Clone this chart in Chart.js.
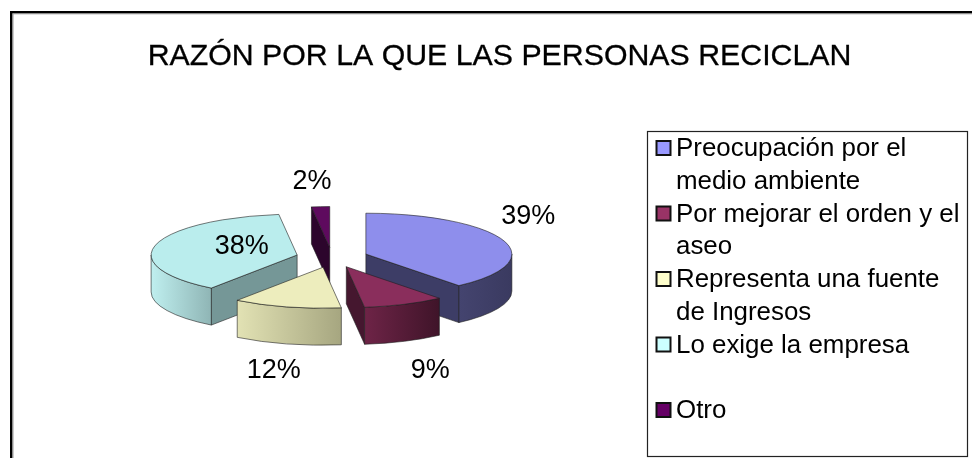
<!DOCTYPE html>
<html><head><meta charset="utf-8">
<script src="https://cdn.jsdelivr.net/npm/chart.js@4"></script>
<style>html,body{margin:0;padding:0;background:#fff}canvas{display:block;filter:blur(0.5px)}</style>
</head><body><canvas id="c" width="972" height="458"></canvas>
<script>
const titleText = "RAZÓN POR LA QUE LAS PERSONAS RECICLAN";
const categories = ["Preocupación por el medio ambiente","Por mejorar el orden y el aseo","Representa una fuente de Ingresos","Lo exige la empresa","Otro"];
const values = [39, 9, 12, 38, 2];
const legendLines = [["Preocupación por el","medio ambiente"],["Por mejorar el orden y el","aseo"],["Representa una fuente","de Ingresos"],["Lo exige la empresa",""],["Otro"]];
const legendColors = ["#9999FF","#993366","#FFFFCC","#CCFFFF","#660066"];
const topColors = ["#8E8EEC","#8A2E5C","#EDEDBD","#BAEDED","#5E0A5E"];
const faceColors = ["#3D3D66","#45172F","#A5A57E","#759797","#2C052C"];
const rimLeft = ["#44446F","#6E2447","#E2E2B4","#BFEFEF","#2C052C"];
const rimRight = ["#3A3A60","#3F1429","#A6A680","#8FB5B5","#2C052C"];
const drawOrder = [4, 0, 3, 2, 1];
const labelNudge = [[25,-24],[26,66],[-13,63.5],[86,1.5],[-8.5,-25.5]];

const SQUASH = 0.28, DEPTH = 37, EXPLODE = 36, RADIUS = 146;
const FONT = '"Liberation Sans", Arial, sans-serif';

const scene = {
  id: 'scene',
  beforeDraw(chart) {
    const ctx = chart.ctx;
    ctx.save();
    ctx.fillStyle = '#fff';
    ctx.fillRect(0, 0, chart.width, chart.height);
    // outer frame
    ctx.fillStyle = '#000';
    ctx.fillRect(10, 11, 962, 2.5);
    ctx.fillRect(10, 11, 2.5, 447);
    ctx.fillStyle = '#999';
    ctx.fillRect(12.5, 13.5, 1, 445);
    ctx.fillRect(12.5, 13.5, 960, 0.8);
    // title
    ctx.fillStyle = '#000';
    ctx.strokeStyle = '#000';
    ctx.lineWidth = 0.3;
    ctx.font = '30.3px ' + FONT;
    ctx.textAlign = 'center';
    ctx.textBaseline = 'alphabetic';
    ctx.fillText(titleText, 499.5, 65);
    ctx.strokeText(titleText, 499.5, 65);
    ctx.restore();
  },
  beforeDatasetDraw(chart, args) {
    const ctx = chart.ctx;
    const arcs = chart.getDatasetMeta(args.index).data;
    const mid = a => (a.startAngle + a.endAngle) / 2;
    for (const i of drawOrder) {
      const a = arcs[i];
      const ox = a.x + Math.cos(mid(a)) * EXPLODE;
      const oy = a.y + Math.sin(mid(a)) * EXPLODE * SQUASH;
      const R = a.outerRadius, Ry = R * SQUASH;
      const pt = t => [ox + R * Math.cos(t), oy + Ry * Math.sin(t)];
      const edge = 'rgba(30,30,30,0.75)';
      ctx.save();
      ctx.lineWidth = 0.8;
      ctx.strokeStyle = edge;
      ctx.lineJoin = 'round';
      // flat radial faces turned towards the viewer
      for (const [t, n] of [[a.startAngle, a.startAngle - Math.PI/2],[a.endAngle, a.endAngle + Math.PI/2]]) {
        if (Math.sin(n) > 0.001) {
          const p = pt(t);
          ctx.beginPath();
          ctx.moveTo(ox, oy);
          ctx.lineTo(p[0], p[1]);
          ctx.lineTo(p[0], p[1] + DEPTH);
          ctx.lineTo(ox, oy + DEPTH);
          ctx.closePath();
          ctx.fillStyle = faceColors[i];
          ctx.fill();
          ctx.stroke();
        }
      }
      // curved rim on the front half
      const s = a.startAngle, e = a.endAngle;
      const lo = [];
      for (const k of [0, 2*Math.PI]) {
        const from = Math.max(s, k), to = Math.min(e, k + Math.PI);
        if (to > from) lo.push([from, to]);
      }
      for (const [from, to] of lo) {
        const p0 = pt(from), p1 = pt(to);
        const minX = Math.min(p0[0], p1[0], (from <= Math.PI && to >= Math.PI) ? ox - R : 1e9);
        const maxX = Math.max(p0[0], p1[0], (from <= 0 && to >= 0) ? ox + R : -1e9);
        const g = ctx.createLinearGradient(minX, 0, maxX, 0);
        g.addColorStop(0, rimLeft[i]);
        g.addColorStop(1, rimRight[i]);
        ctx.beginPath();
        ctx.ellipse(ox, oy, R, Ry, 0, from, to);
        ctx.lineTo(p1[0], p1[1] + DEPTH);
        ctx.ellipse(ox, oy + DEPTH, R, Ry, 0, to, from, true);
        ctx.closePath();
        ctx.fillStyle = g;
        ctx.fill();
        ctx.stroke();
      }
      // top surface: the library's own arc, exploded and squashed
      ctx.save();
      ctx.translate(ox, oy);
      ctx.scale(1, SQUASH);
      ctx.translate(-a.x, -a.y);
      a.draw(ctx);
      ctx.restore();
      ctx.beginPath();
      ctx.moveTo(ox, oy);
      ctx.ellipse(ox, oy, R, Ry, 0, a.startAngle, a.endAngle);
      ctx.closePath();
      ctx.stroke();
      ctx.restore();
    }
    return false;
  },
  afterDatasetsDraw(chart) {
    const ctx = chart.ctx;
    const arcs = chart.getDatasetMeta(0).data;
    ctx.save();
    // percentage labels
    ctx.fillStyle = '#000';
    ctx.font = '27px ' + FONT;
    ctx.textAlign = 'center';
    ctx.textBaseline = 'middle';
    const total = values.reduce((x, y) => x + y, 0);
    arcs.forEach((a, i) => {
      const m = (a.startAngle + a.endAngle) / 2;
      const r = EXPLODE + a.outerRadius;
      const x = a.x + Math.cos(m) * r + labelNudge[i][0];
      const y = a.y + Math.sin(m) * r * SQUASH + labelNudge[i][1];
      ctx.fillText(Math.round(values[i] / total * 100) + '%', x, y);
    });
    // legend
    ctx.fillStyle = '#fff';
    ctx.strokeStyle = '#222';
    ctx.lineWidth = 1.2;
    ctx.fillRect(647.5, 131.5, 320, 325);
    ctx.strokeRect(647.5, 131.5, 320, 325);
    ctx.font = '25.9px ' + FONT;
    ctx.textAlign = 'left';
    ctx.textBaseline = 'alphabetic';
    let line = 0;
    legendLines.forEach((lines, i) => {
      const base = 156 + line * 32.75;
      ctx.fillStyle = legendColors[i];
      ctx.fillRect(656.5, base - 15, 14, 14);
      ctx.strokeStyle = '#111';
      ctx.lineWidth = 2;
      ctx.strokeRect(656.5, base - 15, 14, 14);
      ctx.fillStyle = '#000';
      lines.forEach(t => {
        ctx.fillText(t, 676, 156 + line * 32.75);
        line++;
      });
    });
    ctx.restore();
  }
};

new Chart(document.getElementById('c'), {
  type: 'pie',
  data: {
    labels: categories,
    datasets: [{ data: values, backgroundColor: topColors, borderWidth: 0, offset: 0 }]
  },
  options: {
    responsive: false,
    animation: false,
    radius: RADIUS,
    layout: { padding: { left: 0, right: 308, top: 57, bottom: 0 } },
    plugins: { legend: { display: false }, title: { display: false }, tooltip: { enabled: false } }
  },
  plugins: [scene]
});
</script></body></html>
